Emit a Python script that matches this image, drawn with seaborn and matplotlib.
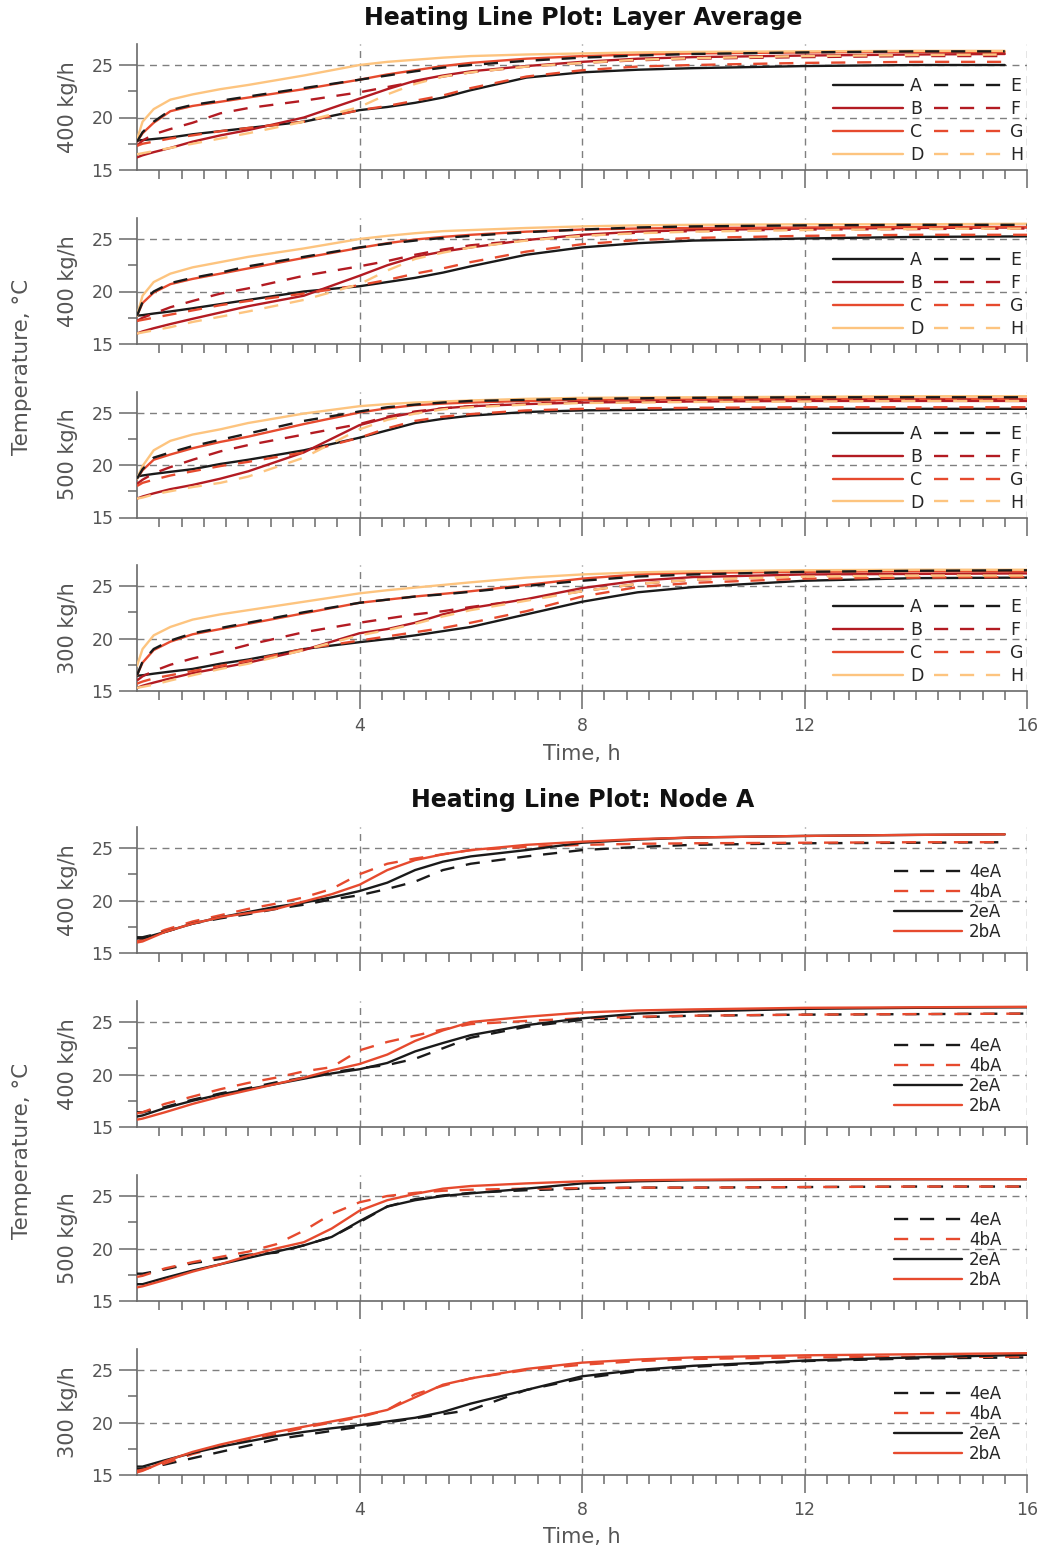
import numpy as np
import pandas as pd
import matplotlib
matplotlib.use("Agg")
import matplotlib.pyplot as plt
import seaborn as sns

sns.set_style("ticks")
plt.rcParams['font.family'] = ['DejaVu Sans']

# ---------------- data ----------------
t_layer = [0, 0.1, 0.3, 0.6, 1, 1.5, 2, 3, 4, 4.5, 5, 5.5, 6, 7, 8, 9, 10, 12, 14, 16]
t_layer_short = [0, 0.1, 0.3, 0.6, 1, 1.5, 2, 3, 4, 4.5, 5, 5.5, 6, 7, 8, 9, 10, 12, 14, 15.6]

layer_labels = ["400 kg/h", "400 kg/h", "500 kg/h", "300 kg/h"]
layer_series = ["A", "B", "C", "D", "E", "F", "G", "H"]

layer_400a = {
    "A": [17.8, 17.85, 17.95, 18.1, 18.4, 18.7, 19.0, 19.6, 20.7, 21.0, 21.4, 21.9, 22.6, 23.8, 24.3, 24.55, 24.7, 24.9, 25.0, 25.0],
    "B": [16.2, 16.4, 16.7, 17.1, 17.7, 18.3, 18.8, 20.0, 21.8, 22.7, 23.5, 24.0, 24.4, 24.9, 25.3, 25.6, 25.75, 25.9, 26.0, 26.05],
    "C": [17.7, 18.5, 19.5, 20.6, 21.1, 21.5, 21.9, 22.7, 23.6, 24.1, 24.5, 24.9, 25.2, 25.6, 25.85, 26.0, 26.1, 26.2, 26.25, 26.25],
    "D": [17.9, 19.6, 20.8, 21.7, 22.2, 22.7, 23.1, 24.0, 25.0, 25.3, 25.5, 25.7, 25.85, 26.0, 26.1, 26.2, 26.25, 26.3, 26.35, 26.35],
    "E": [17.7, 18.6, 19.6, 20.7, 21.2, 21.6, 22.0, 22.8, 23.6, 24.0, 24.4, 24.75, 25.0, 25.4, 25.7, 25.9, 26.05, 26.2, 26.3, 26.3],
    "F": [17.3, 17.8, 18.4, 18.9, 19.5, 20.4, 20.9, 21.6, 22.4, 22.9, 23.4, 23.9, 24.3, 24.85, 25.2, 25.45, 25.6, 25.75, 25.85, 25.85],
    "G": [17.3, 17.5, 17.7, 18.0, 18.3, 18.7, 19.0, 19.6, 20.7, 21.1, 21.6, 22.1, 22.8, 23.9, 24.5, 24.85, 25.0, 25.2, 25.3, 25.3],
    "H": [16.5, 16.6, 16.8, 17.1, 17.5, 18.0, 18.5, 19.6, 21.0, 22.2, 23.2, 23.9, 24.3, 24.85, 25.2, 25.5, 25.65, 25.85, 25.95, 26.0],
}
layer_400b = {
    "A": [17.7, 17.75, 17.9, 18.1, 18.4, 18.8, 19.2, 20.0, 20.5, 20.9, 21.3, 21.8, 22.4, 23.5, 24.2, 24.6, 24.85, 25.05, 25.2, 25.25],
    "B": [16.0, 16.2, 16.5, 16.9, 17.4, 18.0, 18.6, 19.6, 21.5, 22.5, 23.3, 23.8, 24.2, 24.9, 25.4, 25.7, 25.85, 26.0, 26.05, 26.1],
    "C": [17.7, 18.9, 19.9, 20.7, 21.2, 21.7, 22.2, 23.2, 24.15, 24.6, 24.95, 25.2, 25.4, 25.7, 25.9, 26.0, 26.05, 26.1, 26.15, 26.15],
    "D": [17.7, 19.6, 20.9, 21.7, 22.3, 22.8, 23.3, 24.1, 25.0, 25.3, 25.55, 25.75, 25.85, 26.05, 26.2, 26.3, 26.35, 26.4, 26.4, 26.45],
    "E": [17.7, 19.0, 20.0, 20.8, 21.3, 21.8, 22.4, 23.3, 24.2, 24.55, 24.85, 25.1, 25.3, 25.65, 25.9, 26.1, 26.2, 26.3, 26.35, 26.35],
    "F": [17.2, 17.5, 17.9, 18.5, 19.1, 19.8, 20.3, 21.5, 22.4, 22.9, 23.5, 24.0, 24.4, 24.9, 25.3, 25.6, 25.75, 25.9, 25.95, 26.0],
    "G": [17.2, 17.3, 17.5, 17.8, 18.2, 18.7, 19.1, 19.8, 20.6, 21.1, 21.7, 22.2, 22.8, 23.8, 24.5, 24.9, 25.1, 25.3, 25.4, 25.4],
    "H": [16.0, 16.1, 16.3, 16.6, 17.1, 17.6, 18.1, 19.2, 20.7, 22.0, 23.1, 23.7, 24.2, 24.85, 25.3, 25.55, 25.7, 25.85, 25.95, 26.0],
}
layer_500 = {
    "A": [18.9, 19.0, 19.15, 19.35, 19.6, 20.1, 20.5, 21.4, 22.6, 23.3, 24.0, 24.4, 24.7, 25.05, 25.2, 25.25, 25.3, 25.35, 25.35, 25.35],
    "B": [16.8, 17.0, 17.3, 17.7, 18.1, 18.7, 19.4, 21.2, 23.8, 24.5, 25.0, 25.4, 25.6, 25.8, 25.95, 26.0, 26.05, 26.1, 26.1, 26.1],
    "C": [18.7, 19.5, 20.5, 21.0, 21.6, 22.2, 22.7, 23.9, 25.0, 25.4, 25.7, 25.85, 25.95, 26.1, 26.2, 26.22, 26.25, 26.3, 26.3, 26.3],
    "D": [18.7, 19.9, 21.4, 22.3, 22.9, 23.4, 24.0, 24.9, 25.6, 25.8, 25.95, 26.05, 26.15, 26.3, 26.4, 26.43, 26.45, 26.5, 26.55, 26.55],
    "E": [18.7, 19.6, 20.7, 21.2, 21.8, 22.4, 23.0, 24.2, 25.1, 25.5, 25.75, 25.95, 26.1, 26.2, 26.3, 26.35, 26.4, 26.45, 26.45, 26.45],
    "F": [18.2, 18.6, 19.2, 19.8, 20.5, 21.3, 21.9, 22.9, 23.9, 24.6, 25.1, 25.4, 25.6, 25.85, 26.0, 26.05, 26.1, 26.15, 26.2, 26.2],
    "G": [18.0, 18.3, 18.6, 19.0, 19.4, 19.9, 20.3, 21.2, 22.6, 23.5, 24.2, 24.6, 24.85, 25.2, 25.35, 25.4, 25.45, 25.5, 25.5, 25.5],
    "H": [16.8, 16.9, 17.2, 17.5, 17.9, 18.3, 18.9, 20.7, 23.4, 24.3, 24.9, 25.3, 25.5, 25.75, 25.9, 25.95, 26.0, 26.05, 26.1, 26.1],
}
layer_300 = {
    "A": [16.45, 16.5, 16.65, 16.85, 17.1, 17.6, 18.0, 19.0, 19.65, 19.95, 20.3, 20.7, 21.1, 22.3, 23.5, 24.4, 24.9, 25.5, 25.75, 25.8],
    "B": [15.3, 15.5, 15.8, 16.2, 16.7, 17.2, 17.7, 18.9, 20.5, 20.9, 21.5, 22.3, 22.9, 23.75, 24.8, 25.5, 25.85, 26.1, 26.15, 26.2],
    "C": [16.5, 17.7, 18.9, 19.7, 20.4, 20.9, 21.4, 22.4, 23.4, 23.7, 24.0, 24.25, 24.5, 25.1, 25.7, 26.1, 26.25, 26.35, 26.4, 26.4],
    "D": [17.4, 19.0, 20.3, 21.1, 21.8, 22.3, 22.7, 23.5, 24.3, 24.6, 24.85, 25.1, 25.35, 25.8, 26.1, 26.3, 26.4, 26.5, 26.55, 26.55],
    "E": [16.5, 17.8, 19.0, 19.8, 20.5, 21.0, 21.5, 22.5, 23.4, 23.7, 24.0, 24.2, 24.45, 25.0, 25.5, 25.9, 26.1, 26.35, 26.45, 26.5],
    "F": [16.0, 16.4, 16.9, 17.5, 18.1, 18.7, 19.4, 20.6, 21.5, 21.9, 22.3, 22.6, 23.0, 23.7, 24.5, 25.2, 25.6, 25.95, 26.1, 26.15],
    "G": [15.7, 15.9, 16.2, 16.5, 16.9, 17.4, 17.9, 19.0, 19.8, 20.2, 20.6, 21.0, 21.5, 22.6, 24.0, 24.9, 25.3, 25.7, 25.8, 25.85],
    "H": [15.3, 15.4, 15.6, 16.0, 16.5, 17.1, 17.6, 18.9, 20.3, 20.8, 21.4, 22.1, 22.7, 23.6, 24.5, 25.2, 25.6, 25.9, 26.0, 26.0],
}

t_node = [0, 0.1, 0.5, 1, 1.5, 2, 2.5, 3, 3.5, 4, 4.5, 5, 5.5, 6, 7, 8, 9, 10, 12, 14, 16]
t_node_short = [0, 0.1, 0.5, 1, 1.5, 2, 2.5, 3, 3.5, 4, 4.5, 5, 5.5, 6, 7, 8, 9, 10, 12, 14, 15.6]
node_series = ["4eA", "4bA", "2eA", "2bA"]

node_400a = {
    "4eA": [16.5, 16.5, 17.0, 17.8, 18.3, 18.7, 19.2, 19.6, 20.1, 20.5, 21.1, 21.8, 22.9, 23.5, 24.2, 24.8, 25.1, 25.3, 25.45, 25.5, 25.55],
    "4bA": [16.1, 16.3, 17.2, 18.0, 18.6, 19.2, 19.7, 20.3, 21.1, 22.5, 23.5, 24.0, 24.4, 24.8, 25.1, 25.3, 25.4, 25.45, 25.5, 25.55, 25.55],
    "2eA": [16.4, 16.4, 17.0, 17.8, 18.4, 18.9, 19.4, 19.8, 20.3, 20.9, 21.7, 22.9, 23.7, 24.2, 24.8, 25.5, 25.8, 26.0, 26.15, 26.25, 26.3],
    "2bA": [16.0, 16.1, 17.0, 17.8, 18.4, 18.8, 19.2, 19.9, 20.6, 21.5, 22.9, 23.85, 24.4, 24.8, 25.3, 25.6, 25.85, 26.0, 26.15, 26.25, 26.3],
}
node_400b = {
    "4eA": [16.4, 16.4, 16.9, 17.6, 18.2, 18.7, 19.25, 19.7, 20.2, 20.6, 20.9, 21.5, 22.5, 23.5, 24.55, 25.2, 25.45, 25.6, 25.7, 25.75, 25.8],
    "4bA": [16.3, 16.4, 17.2, 17.9, 18.6, 19.2, 19.7, 20.3, 20.7, 22.3, 23.1, 23.7, 24.3, 24.8, 25.1, 25.35, 25.5, 25.6, 25.7, 25.75, 25.8],
    "2eA": [16.0, 16.1, 16.8, 17.5, 18.1, 18.6, 19.1, 19.6, 20.1, 20.5, 21.1, 22.2, 23.0, 23.75, 24.7, 25.35, 25.8, 26.0, 26.25, 26.35, 26.4],
    "2bA": [15.7, 15.8, 16.4, 17.2, 17.9, 18.5, 19.1, 19.7, 20.4, 21.0, 21.9, 23.2, 24.2, 25.0, 25.5, 25.9, 26.1, 26.2, 26.35, 26.4, 26.45],
}
node_500 = {
    "4eA": [17.6, 17.6, 18.0, 18.6, 19.0, 19.4, 19.6, 20.3, 21.1, 22.5, 24.0, 24.7, 25.05, 25.3, 25.55, 25.7, 25.8, 25.8, 25.85, 25.9, 25.9],
    "4bA": [17.3, 17.4, 18.1, 18.7, 19.2, 19.7, 20.4, 21.7, 23.3, 24.4, 25.0, 25.3, 25.5, 25.6, 25.7, 25.75, 25.8, 25.8, 25.85, 25.9, 25.9],
    "2eA": [16.6, 16.6, 17.2, 17.9, 18.5, 19.1, 19.7, 20.3, 21.1, 22.6, 24.0, 24.6, 25.0, 25.25, 25.7, 26.2, 26.4, 26.5, 26.55, 26.6, 26.6],
    "2bA": [16.3, 16.4, 17.0, 17.8, 18.5, 19.3, 20.0, 20.6, 21.9, 23.6, 24.6, 25.2, 25.7, 25.95, 26.2, 26.4, 26.5, 26.55, 26.6, 26.6, 26.6],
}
node_300 = {
    "4eA": [15.55, 15.6, 16.0, 16.6, 17.2, 17.8, 18.4, 18.8, 19.2, 19.6, 20.0, 20.4, 20.8, 21.2, 23.1, 24.2, 24.9, 25.3, 25.85, 26.1, 26.2],
    "4bA": [15.4, 15.5, 16.1, 17.0, 17.7, 18.3, 18.9, 19.5, 20.0, 20.5, 21.2, 22.7, 23.5, 24.2, 25.0, 25.5, 25.85, 26.05, 26.2, 26.25, 26.25],
    "2eA": [15.8, 15.8, 16.4, 17.1, 17.7, 18.2, 18.7, 19.1, 19.45, 19.75, 20.1, 20.45, 21.0, 21.8, 23.1, 24.4, 25.0, 25.4, 25.9, 26.2, 26.45],
    "2bA": [15.25, 15.4, 16.3, 17.2, 17.9, 18.5, 19.1, 19.6, 20.1, 20.6, 21.2, 22.4, 23.6, 24.2, 25.1, 25.7, 26.0, 26.2, 26.4, 26.5, 26.6],
}

x_major = [4, 8, 12, 16]
y_major = [15, 20, 25]
y_minor = [17.5, 22.5]

# ---------------- style ----------------
BLACK = "#1a1a1a"
DKRED = "#b31b22"
ORRED = "#e64a2e"
LTORG = "#fdc47f"
layer_colors = {"A": BLACK, "B": DKRED, "C": ORRED, "D": LTORG,
                "E": BLACK, "F": DKRED, "G": ORRED, "H": LTORG}
node_colors = {"4eA": BLACK, "4bA": ORRED, "2eA": BLACK, "2bA": ORRED}
node_dashed = {"4eA": True, "4bA": True, "2eA": False, "2bA": False}
DASH = (0, (6, 5))
GRID = "#7f7f7f"
AXC = "#6a6a6a"
TXT = "#555555"

W, H = 1042, 1552
fig = plt.figure(figsize=(W / 100, H / 100), dpi=100)


def make_ax(bottom_px):
    return fig.add_axes([137 / W, 1 - bottom_px / H, 890 / W, 126 / H])


def style_ax(ax, ylabel, show_x):
    ax.set_xlim(0, 16)
    ax.set_ylim(15, 27)
    ax.set_xticks(x_major)
    minor = [m for m in np.arange(0.4, 16.0, 0.4) if abs(m / 4 - round(m / 4)) > 1e-6]
    ax.set_xticks(minor, minor=True)
    ax.set_yticks(y_major)
    ax.set_yticks(y_minor, minor=True)
    ax.tick_params(which="both", bottom=True, left=True, top=False, right=False)
    ax.tick_params(which="major", direction="out", length=13, width=1.1, color=AXC,
                   labelsize=12.5, labelcolor=TXT)
    ax.tick_params(which="minor", direction="out", length=6.5, width=1.1, color=AXC)
    ax.tick_params(axis="x", which="major", pad=6)
    ax.tick_params(axis="y", which="major", pad=4)
    if not show_x:
        ax.tick_params(axis="x", labelbottom=False)
    for s in ["top", "right"]:
        ax.spines[s].set_visible(False)
    for s in ["left", "bottom"]:
        ax.spines[s].set_color(AXC)
        ax.spines[s].set_linewidth(1.2)
    for y in (20, 25):
        ax.axhline(y, color=GRID, lw=1, ls=(0, (5, 4)), zorder=0.5)
    for x in x_major:
        ax.axvline(x, color=GRID, lw=1, ls=(0, (5, 4)), zorder=0.5)
    ax.set_xlabel("")
    ax.set_ylabel(ylabel, fontsize=15, color=TXT)
    ax.yaxis.set_label_coords(-0.066, 0.5)


# ---------------- top group ----------------
layer_panels = [(t_layer_short, layer_400a), (t_layer, layer_400b),
                (t_layer, layer_500), (t_layer, layer_300)]
top_bottoms = [170, 344, 517.5, 691]
for i, ((tt, data), bpx) in enumerate(zip(layer_panels, top_bottoms)):
    ax = make_ax(bpx)
    handles = []
    for name in layer_series:
        n0 = len(ax.lines)
        sns.lineplot(x=tt, y=data[name], ax=ax, color=layer_colors[name], lw=1.7,
                     estimator=None, sort=False, legend=False, zorder=3)
        ln = ax.lines[n0]
        if name in "EFGH":
            ln.set_linestyle(DASH)
        handles.append(ln)
    style_ax(ax, layer_labels[i], show_x=(i == 3))
    ax.legend(handles, layer_series, ncol=2, loc="lower right", bbox_to_anchor=(1.0, 0.02),
              frameon=False, fontsize=12.5, handlelength=4.0, handletextpad=0.4,
              columnspacing=0.6, labelspacing=0.28, borderaxespad=0.1, borderpad=0.1)

# ---------------- bottom group ----------------
node_panels = [(t_node_short, node_400a), (t_node, node_400b),
               (t_node, node_500), (t_node, node_300)]
node_bottoms = [953, 1127, 1301, 1475]
for i, ((tt, data), bpx) in enumerate(zip(node_panels, node_bottoms)):
    ax = make_ax(bpx)
    handles = []
    for name in node_series:
        n0 = len(ax.lines)
        sns.lineplot(x=tt, y=data[name], ax=ax, color=node_colors[name], lw=1.7,
                     estimator=None, sort=False, legend=False, zorder=3)
        ln = ax.lines[n0]
        if node_dashed[name]:
            ln.set_linestyle(DASH)
        handles.append(ln)
    style_ax(ax, layer_labels[i], show_x=(i == 3))
    ax.legend(handles, node_series, ncol=1, loc="lower right", bbox_to_anchor=(0.975, 0.07),
              frameon=False, fontsize=12, handlelength=4.1, handletextpad=0.4,
              labelspacing=0.12, borderaxespad=0.1, borderpad=0.1)

# ---------------- figure texts ----------------
fig.text(583 / W, 1 - 18 / H, "Heating Line Plot: Layer Average", ha="center", va="center",
         fontsize=17, fontweight="bold", color="#111111")
fig.text(583 / W, 1 - 800 / H, "Heating Line Plot: Node A", ha="center", va="center",
         fontsize=17, fontweight="bold", color="#111111")
fig.text(582 / W, 1 - 754 / H, "Time, h", ha="center", va="center", fontsize=15, color=TXT)
fig.text(582 / W, 1 - 1537 / H, "Time, h", ha="center", va="center", fontsize=15, color=TXT)
fig.text(22 / W, 1 - 367 / H, "Temperature, °C", rotation=90, ha="center", va="center",
         fontsize=15.5, color=TXT)
fig.text(22 / W, 1 - 1151 / H, "Temperature, °C", rotation=90, ha="center", va="center",
         fontsize=15.5, color=TXT)

fig.savefig("out.png", dpi=100, facecolor="white")
